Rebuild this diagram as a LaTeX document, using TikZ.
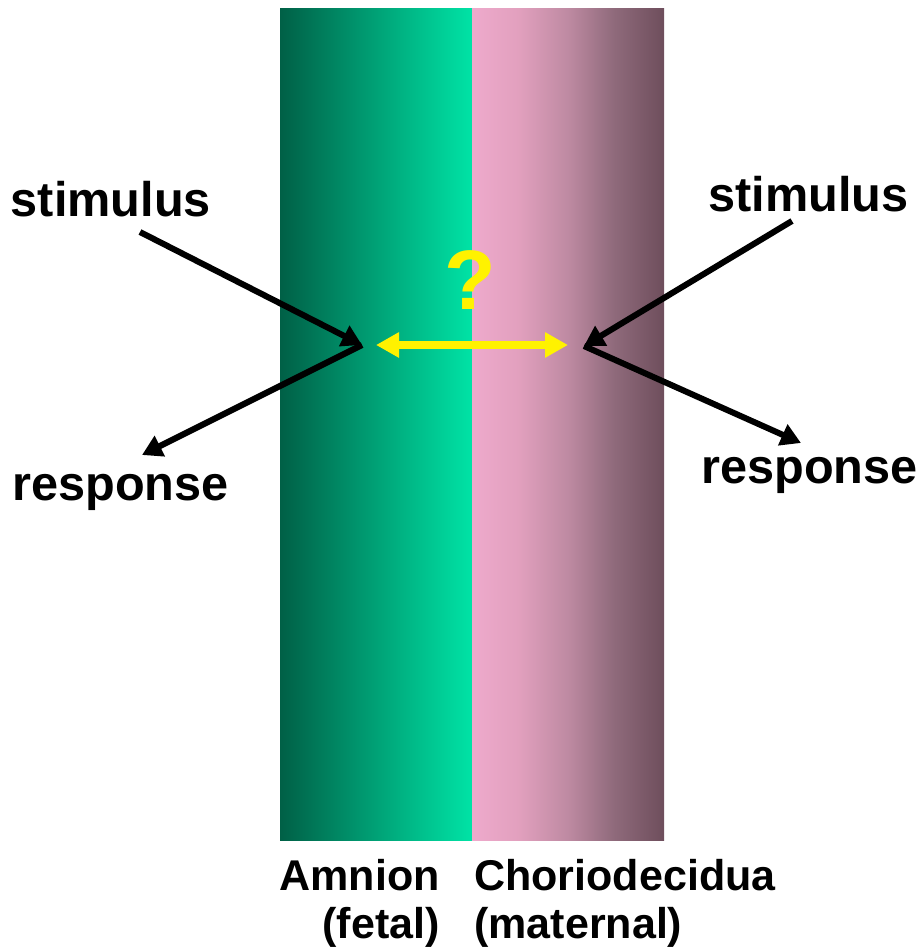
\documentclass[tikz,border=0pt]{standalone}
\usepackage{fontspec}
\setmainfont{Liberation Sans}
\usetikzlibrary{arrows.meta}
\definecolor{amnionDark}{HTML}{006046}
\definecolor{amnionBright}{HTML}{00E3A6}
\definecolor{chorioPink}{HTML}{EEAACC}
\definecolor{chorioA}{HTML}{E2A0BE}
\definecolor{chorioB}{HTML}{BE8AA2}
\definecolor{chorioC}{HTML}{8F6A7B}
\definecolor{chorioDark}{HTML}{6E4E5C}
\pgfdeclarehorizontalshading{chorioshade}{100bp}{color(0bp)=(chorioPink); color(25bp)=(chorioPink); color(37bp)=(chorioA); color(50bp)=(chorioB); color(62bp)=(chorioC); color(75bp)=(chorioDark); color(100bp)=(chorioDark)}

\begin{document}
\begin{tikzpicture}[x=0.025cm,y=-0.025cm,
  word/.style={font=\fontsize{34.6}{40}\selectfont\bfseries, inner sep=0pt},
  layer/.style={font=\fontsize{30.6}{36}\selectfont\bfseries, inner sep=0pt},
  signal/.style={line width=4.3pt, -{Triangle[length=0.5cm,width=0.55cm]}},
  exchange/.style={line width=5.7pt, yellow, {Triangle[length=0.575cm,width=0.6cm]}-{Triangle[length=0.575cm,width=0.6cm]}}]
\useasboundingbox (0,0) rectangle (920,951);
% membrane layers
\shade[left color=amnionDark, right color=amnionBright] (280,9) rectangle (472,840);
\shade[shading=chorioshade] (472,9) rectangle (664,840);
% labels
\node[word, anchor=base west] (stimL) at (10.5,217) {stimulus};
\node[word, anchor=base west] (respL) at (12,500) {response};
\node[word, anchor=base west] (stimR) at (708,212) {stimulus};
\node[word, anchor=base west] (respR) at (701,483) {response};
\node[font=\fontsize{60}{66}\selectfont\bfseries, text=yellow, inner sep=0pt, anchor=base] (query) at (470,309) {?};
\node[layer, anchor=base east] (amnion) at (440,890) {Amnion};
\node[layer, anchor=base east] (fetal) at (440,938) {(fetal)};
\node[layer, anchor=base west] (chorio) at (474,890) {Choriodecidua};
\node[layer, anchor=base west] (maternal) at (474,938) {(maternal)};
% arrow ends
\coordinate (hubL) at (362,345);
\coordinate (hubR) at (584,346);
\coordinate (stimLtail) at (140,232);
\coordinate (respLtip) at (142,455);
\coordinate (stimRtail) at (792,221);
\coordinate (respRtip) at (801,443);
\coordinate (qL) at (376,345);
\coordinate (qR) at (568,345);
\draw[signal] (stimLtail) -- (hubL);
\draw[signal] (hubL) -- (respLtip);
\draw[signal] (stimRtail) -- (hubR);
\draw[signal] (hubR) -- (respRtip);
\draw[exchange] (qL) -- (qR);
\end{tikzpicture}
\end{document}
